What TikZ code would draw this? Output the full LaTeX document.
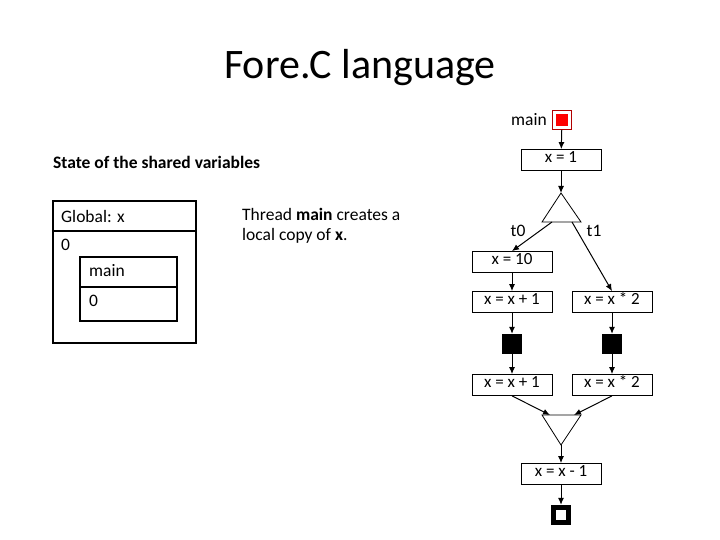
\documentclass[tikz,border=0pt]{standalone}
\usepackage{fontspec}
\setmainfont{Carlito}
\usetikzlibrary{arrows.meta}
\begin{document}
\begin{tikzpicture}[x=1pt,y=-1pt,
  box/.style={draw,line width=0.8pt,minimum width=80pt,minimum height=21pt,inner sep=0pt,text height=0.7em,text depth=0.2em,font=\fontsize{17}{19}\selectfont},
  arr/.style={-{Latex[length=7pt,width=6pt]},line width=1pt},
  lbl/.style={font=\fontsize{17.5}{20}\selectfont,inner sep=0pt},
  blk/.style={fill=black,minimum size=20pt,inner sep=0pt}]
\useasboundingbox (0,0) rectangle (720,540);
\node[font=\fontsize{42}{46}\selectfont] (title) at (360,68) {Fore.C language};
\node[anchor=west,font=\bfseries\fontsize{17.5}{20}\selectfont,inner sep=0pt] (state) at (53,162) {State of the shared variables};
% memory boxes
\draw[line width=1.6pt] (53,201) rectangle (196,343);
\draw[line width=1.6pt] (53,231) -- (196,231);
\node[lbl,anchor=west] (gx) at (61,216) {Global: x};
\node[lbl,anchor=west] (g0) at (61,245) {0};
\draw[line width=1.6pt] (80,257) rectangle (177,321);
\draw[line width=1.6pt] (80,287) -- (177,287);
\node[lbl,anchor=west] (mn) at (89,271) {main};
\node[lbl,anchor=west] (m0) at (89,301) {0};
\node[lbl,anchor=north west,align=left] (desc) at (242,208) {Thread \textbf{main} creates a\\[0pt]local copy of \textbf{x}.};
% graph
\node[lbl,anchor=east] (mainl) at (547,120) {main};
\node[draw=red!70!black,line width=0.8pt,fill=white,minimum size=19pt,inner sep=0pt] (start) at (562,120) {};
\node[fill=red,minimum size=12pt,inner sep=0pt] (startin) at (start) {};
\node[box] (x1) at (561,160) {x = 1};
\coordinate (fa) at (561,193);
\coordinate (fl) at (542,222);
\coordinate (fr) at (581,222);
\draw[line width=0.8pt] (fa) -- (fl) -- (fr) -- cycle;
\node[lbl] (t0) at (518,231) {t0};
\node[lbl] (t1) at (594,231) {t1};
\node[box] (x10) at (512,262) {x = 10};
\node[box] (a1) at (512,302) {x = x + 1};
\node[box] (b1) at (612,302) {x = x * 2};
\node[blk] (pa) at (512,344) {};
\node[blk] (pb) at (612,344) {};
\node[box] (a2) at (512,385) {x = x + 1};
\node[box] (b2) at (612,385) {x = x * 2};
\coordinate (jl) at (542,415);
\coordinate (jr) at (581,415);
\coordinate (ja) at (561,445);
\draw[line width=0.8pt] (jl) -- (jr) -- (ja) -- cycle;
\node[box] (xm) at (561,474) {x = x - 1};
\node[blk] (end) at (561,515) {};
\node[fill=white,minimum size=10pt,inner sep=0pt] (endin) at (end) {};
\draw[arr] (start) -- (x1);
\draw[arr] (x1) -- (fa);
\draw[arr] (552,222) -- (x10.north);
\draw[arr] (572,222) -- (b1.north);
\draw[arr] (x10) -- (a1);
\draw[arr] (a1) -- (pa);
\draw[arr] (b1) -- (pb);
\draw[arr] (pa) -- (a2);
\draw[arr] (pb) -- (b2);
\draw[arr] (a2.south) -- (550,415);
\draw[arr] (b2.south) -- (574,415);
\draw[arr] (ja) -- (xm);
\draw[arr] (xm) -- (end);
\end{tikzpicture}
\end{document}
